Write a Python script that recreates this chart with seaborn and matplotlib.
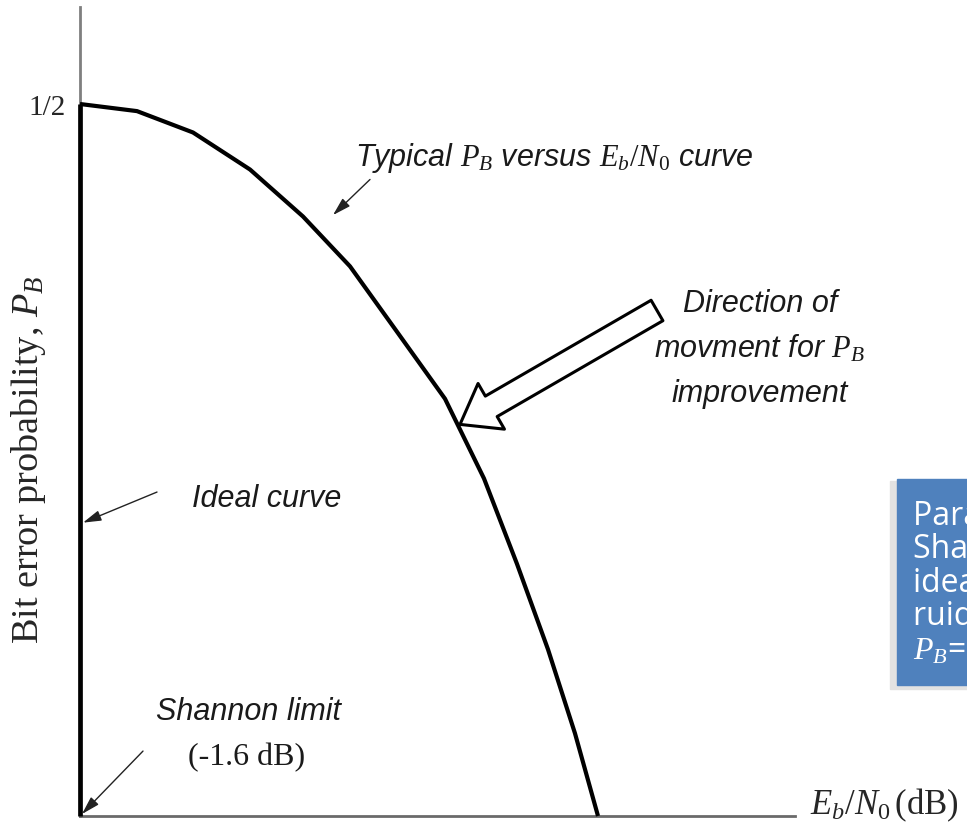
import numpy as np
import pandas as pd
import matplotlib
matplotlib.use("Agg")
import matplotlib.pyplot as plt
from matplotlib.patches import Rectangle
import seaborn as sns

# curves (x in dB, arbitrary scale; y = bit error probability)
eb_n0_db = [-1.6, -0.46, 0.66, 1.80, 2.86, 3.80, 4.70, 5.70, 6.48, 7.14, 7.76, 8.30, 8.76]
p_b = [0.5, 0.495, 0.480, 0.454, 0.421, 0.386, 0.342, 0.293, 0.237, 0.177, 0.117, 0.058, 0.0]
ideal_x = [-1.6, -1.6]
ideal_y = [0.0, 0.5]
ytick_vals = [0.5]
ytick_labels = ["1/2"]
box_lines = ["Para el límite de", "Shannon la curva", "ideal (sin", "ruido) tiene", "$P_B$=0"]

sns.set_style("white")
plt.rcParams["font.family"] = ["Liberation Serif", "DejaVu Serif"]
plt.rcParams["mathtext.fontset"] = "custom"
plt.rcParams["mathtext.rm"] = "Liberation Serif"
plt.rcParams["mathtext.it"] = "Liberation Serif:italic"
plt.rcParams["mathtext.bf"] = "Liberation Serif:bold"

W, H = 967, 837
fig = plt.figure(figsize=(W / 100, H / 100), dpi=100)
# axes box in pixels: left 80, right 795, bottom 817, top 8
ax = fig.add_axes([80 / W, (H - 817) / H, (795 - 80) / W, (817 - 8) / H])

df = pd.DataFrame({"x": eb_n0_db, "y": p_b})
dfi = pd.DataFrame({"x": ideal_x, "y": ideal_y})
sns.lineplot(data=df, x="x", y="y", sort=False, estimator=None, color="black", lw=3, ax=ax)
sns.lineplot(data=dfi, x="x", y="y", sort=False, estimator=None, color="black", lw=3.4, ax=ax)
for ln in ax.lines:
    ln.set_clip_on(False)
    ln.set_zorder(4)
    ln.set_solid_capstyle("butt")
    ln.set_solid_joinstyle("round")

ax.set_xlim(-1.6, -1.6 + 715 / 50)
ax.set_ylim(0, 809 / 1424)
ax.set_xticks([])
ax.set_yticks(ytick_vals, ytick_labels)
ax.tick_params(axis="y", length=0, pad=10, labelsize=21)
for s in ["top", "right"]:
    ax.spines[s].set_visible(False)
ax.spines["left"].set_color("#7f7f7f")
ax.spines["left"].set_linewidth(2)
ax.spines["bottom"].set_color("#6a6a6a")
ax.spines["bottom"].set_linewidth(2)

ax.set_xlabel("")
ax.set_ylabel("Bit error probability, $P_B$", fontsize=27.5)
ax.yaxis.set_label_coords(-0.045, 0.441)

ax.text(1.021, 0.003, "$E_b/N_0\\,$(dB)", transform=ax.transAxes, fontsize=25,
        ha="left", va="baseline")

sans = dict(family="Liberation Sans", style="italic", fontsize=22, color="#1a1a1a")
small_arrow = dict(arrowstyle="-|>,head_length=0.55,head_width=0.16", mutation_scale=20,
                   color="#222222", lw=1.0, shrinkA=0, shrinkB=0)

ax.text(3.9, 0.463, "Typical $P_B$ versus $E_b/N_0$ curve", ha="left", va="center", **sans)
ax.annotate("", xy=(3.46, 0.422), xytext=(4.2, 0.447), arrowprops=small_arrow)

ax.text(12.0, 0.329, "Direction of\nmovment for $P_B$\nimprovement", ha="center", va="center",
        multialignment="center", linespacing=1.6, **sans)
ax.annotate("", xy=(6.0, 0.275), xytext=(9.94, 0.355),
            arrowprops=dict(arrowstyle="simple,head_length=26,head_width=38,tail_width=17",
                            mutation_scale=1, fc="white", ec="black", lw=2.2,
                            shrinkA=0, shrinkB=0))

ax.text(0.64, 0.223, "Ideal curve", ha="left", va="center", **sans)
ax.annotate("", xy=(-1.54, 0.206), xytext=(-0.06, 0.2275), arrowprops=small_arrow)

ax.text(1.78, 0.074, "Shannon limit", ha="center", va="center", **sans)
ax.text(1.74, 0.042, "(-1.6 dB)", ha="center", va="center", fontsize=23, color="#1a1a1a")
ax.annotate("", xy=(-1.56, 0.0014), xytext=(-0.34, 0.0456), arrowprops=small_arrow)

# blue note box on the right edge (clipped by the figure border)
fig.add_artist(Rectangle((890 / W, (H - 690) / H), 100 / W, 208 / H,
                         transform=fig.transFigure, color="#e2e2e2", zorder=5))
fig.add_artist(Rectangle((897 / W, (H - 686) / H), 100 / W, 206 / H,
                         transform=fig.transFigure, color="#4f81bd", zorder=6))
fig.text(913 / W, (H - 500) / H, "\n".join(box_lines), color="white", fontsize=23,
         family=["Open Sans", "DejaVu Sans"], ha="left", va="top", linespacing=1.02, zorder=7)

fig.savefig("out.png", dpi=100)
